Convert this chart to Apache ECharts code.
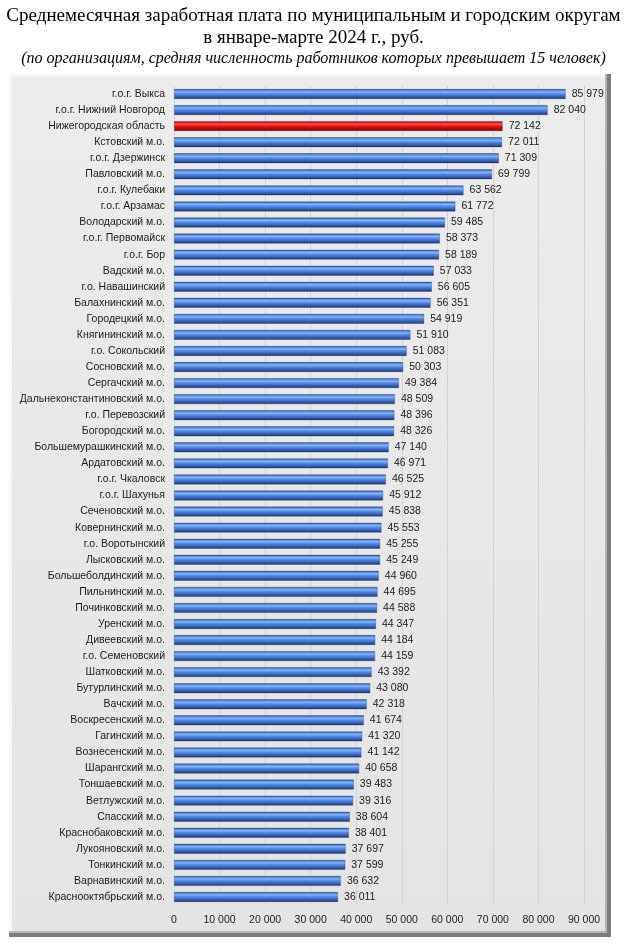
<!DOCTYPE html>
<html>
<head>
<meta charset="utf-8">
<script src="https://cdn.jsdelivr.net/npm/echarts@6/dist/echarts.min.js"></script>
<style>
  html, body { margin: 0; padding: 0; background: #fff; }
  #chart { width: 627px; height: 948px; }
</style>
</head>
<body>
<div id="chart"></div>
<script>
// округа сверху вниз, как на картинке
const districts = [
  "г.о.г. Выкса", "г.о.г. Нижний Новгород", "Нижегородская область", "Кстовский м.о.",
  "г.о.г. Дзержинск", "Павловский м.о.", "г.о.г. Кулебаки", "г.о.г. Арзамас",
  "Володарский м.о.", "г.о.г. Первомайск", "г.о.г. Бор", "Вадский м.о.",
  "г.о. Навашинский", "Балахнинский м.о.", "Городецкий м.о.", "Княгининский м.о.",
  "г.о. Сокольский", "Сосновский м.о.", "Сергачский м.о.", "Дальнеконстантиновский м.о.",
  "г.о. Перевозский", "Богородский м.о.", "Большемурашкинский м.о.", "Ардатовский м.о.",
  "г.о.г. Чкаловск", "г.о.г. Шахунья", "Сеченовский м.о.", "Ковернинский м.о.",
  "г.о. Воротынский", "Лысковский м.о.", "Большеболдинский м.о.", "Пильнинский м.о.",
  "Починковский м.о.", "Уренский м.о.", "Дивеевский м.о.", "г.о. Семеновский",
  "Шатковский м.о.", "Бутурлинский м.о.", "Вачский м.о.", "Воскресенский м.о.",
  "Гагинский м.о.", "Вознесенский м.о.", "Шарангский м.о.", "Тоншаевский м.о.",
  "Ветлужский м.о.", "Спасский м.о.", "Краснобаковский м.о.", "Лукояновский м.о.",
  "Тонкинский м.о.", "Варнавинский м.о.", "Краснооктябрьский м.о."
];

const wages = [
  85979, 82040, 72142, 72011,
  71309, 69799, 63562, 61772,
  59485, 58373, 58189, 57033,
  56605, 56351, 54919, 51910,
  51083, 50303, 49384, 48509,
  48396, 48326, 47140, 46971,
  46525, 45912, 45838, 45553,
  45255, 45249, 44960, 44695,
  44588, 44347, 44184, 44159,
  43392, 43080, 42318, 41674,
  41320, 41142, 40658, 39483,
  39316, 38604, 38401, 37697,
  37599, 36632, 36011
];

const regionName = "Нижегородская область";

const xTicks = [0, 10000, 20000, 30000, 40000, 50000, 60000, 70000, 80000, 90000];

const fmt = (v) => String(v).replace(/\B(?=(\d{3})+(?!\d))/g, " ");

const blueBar = new echarts.graphic.LinearGradient(0, 0, 0, 1, [
  { offset: 0, color: "#28428a" },
  { offset: 0.12, color: "#4f7fd8" },
  { offset: 0.3, color: "#84b6ff" },
  { offset: 0.45, color: "#5b90ea" },
  { offset: 0.7, color: "#3a68c4" },
  { offset: 0.88, color: "#2a4990" },
  { offset: 1, color: "#182c62" }
]);
const redBar = new echarts.graphic.LinearGradient(0, 0, 0, 1, [
  { offset: 0, color: "#7a0000" },
  { offset: 0.12, color: "#d81010" },
  { offset: 0.3, color: "#ff5a5a" },
  { offset: 0.45, color: "#f01c1c" },
  { offset: 0.7, color: "#d00000" },
  { offset: 0.88, color: "#9a0000" },
  { offset: 1, color: "#600000" }
]);

const chart = echarts.init(document.getElementById("chart"), null, { renderer: "canvas" });

chart.setOption({
  backgroundColor: "#fff",
  animation: false,
  title: [
    {
      text: "Среднемесячная заработная плата по муниципальным и городским округам",
      left: "center", top: 2,
      textStyle: { fontFamily: "Liberation Serif", fontSize: 19, fontWeight: "normal", color: "#000" }
    },
    {
      text: "в январе-марте 2024 г., руб.",
      left: "center", top: 24,
      textStyle: { fontFamily: "Liberation Serif", fontSize: 19, fontWeight: "normal", color: "#000" }
    },
    {
      text: "(по организациям, средняя численность работников которых превышает 15 человек)",
      left: "center", top: 46,
      textStyle: { fontFamily: "Liberation Serif", fontSize: 16, fontStyle: "italic", fontWeight: "normal", color: "#000" }
    }
  ],
  graphic: [
    // рамка с объёмом
    { type: "rect", z: -10, shape: { x: 9, y: 74, width: 602, height: 863 },
      style: { fill: "#7c7c7c" } },
    { type: "rect", z: -9, shape: { x: 9, y: 74, width: 598, height: 859 },
      style: { fill: "#b4b4b4" } },
    { type: "rect", z: -8, shape: { x: 9, y: 74, width: 596, height: 857 },
      style: { fill: "#f7f7f7" } },
    { type: "rect", z: -7, shape: { x: 12, y: 77, width: 593, height: 854 },
      style: {
        fill: new echarts.graphic.LinearGradient(0, 0, 0, 1, [
          { offset: 0, color: "#ececec" },
          { offset: 1, color: "#e4e4e4" }
        ])
      } }
  ],
  grid: { left: 174, right: 43, top: 86, bottom: 43, containLabel: false },
  xAxis: {
    type: "value",
    min: xTicks[0],
    max: xTicks[xTicks.length - 1],
    interval: xTicks[1] - xTicks[0],
    axisLine: { show: false },
    axisTick: { show: false },
    splitLine: { lineStyle: { color: "#d2d2d2", width: 1 } },
    axisLabel: {
      margin: 10,
      fontFamily: "Liberation Sans", fontSize: 10.5, color: "#222",
      formatter: (v) => fmt(v)
    }
  },
  yAxis: {
    type: "category",
    data: districts,
    inverse: true,
    axisLine: { show: false },
    axisTick: { show: false },
    axisLabel: {
      margin: 9,
      interval: 0,
      fontFamily: "Liberation Sans", fontSize: 10.5, color: "#1a1a1a"
    }
  },
  series: [{
    type: "bar",
    barWidth: 10,
    data: wages.map((v, i) => ({
      value: v,
      itemStyle: { color: districts[i] === regionName ? redBar : blueBar }
    })),
    itemStyle: { borderColor: "rgba(20,30,60,0.45)", borderWidth: 0.6 },
    label: {
      show: true,
      position: "right",
      distance: 6,
      fontFamily: "Liberation Sans", fontSize: 10.5, color: "#1a1a1a",
      formatter: (p) => fmt(p.value)
    }
  }]
});
</script>
</body>
</html>
